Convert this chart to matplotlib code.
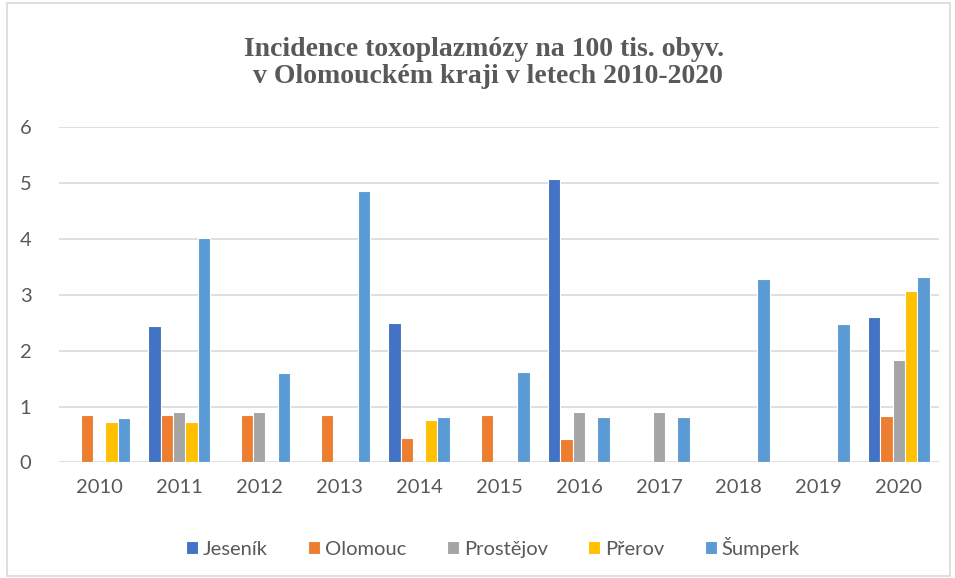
import numpy as np
import matplotlib.pyplot as plt
from matplotlib.patches import Rectangle

# Data
years = ['2010', '2011', '2012', '2013', '2014', '2015', '2016', '2017', '2018', '2019', '2020']
jesenik = [0, 2.44, 0, 0, 2.49, 0, 5.08, 0, 0, 0, 2.61]
olomouc = [0.85, 0.85, 0.85, 0.85, 0.43, 0.84, 0.41, 0, 0, 0, 0.83]
prostejov = [0, 0.90, 0.90, 0, 0, 0, 0.90, 0.90, 0, 0, 1.83]
prerov = [0.73, 0.73, 0, 0, 0.75, 0, 0, 0, 0, 0, 3.07]
sumperk = [0.79, 4.02, 1.60, 4.86, 0.81, 1.61, 0.81, 0.81, 3.29, 2.47, 3.31]

series = ['Jeseník', 'Olomouc', 'Prostějov', 'Přerov', 'Šumperk']
colors = ['#4472C4', '#ED7D31', '#A5A5A5', '#FFC000', '#5B9BD5']
values = [jesenik, olomouc, prostejov, prerov, sumperk]

fig = plt.figure(figsize=(9.55, 5.78), dpi=100)
ax = fig.add_axes([0.062, 0.2, 0.921, 0.58])

x = np.arange(len(years))
w = 0.154
for i, (name, vals, c) in enumerate(zip(series, values, colors)):
    ax.bar(x + (i - 2) * w, vals, width=w, color=c, edgecolor='white',
           linewidth=0.8, label=name, zorder=3)

ax.set_xlim(-0.5, len(years) - 0.5)
ax.set_ylim(0, 6)
ax.set_yticks(range(7))
ax.set_xticks(x)
ax.set_xticklabels(years)
ax.grid(axis='y', color='#d9d9d9', linewidth=1.2, zorder=0)
for s in ax.spines.values():
    s.set_visible(False)
ax.tick_params(length=0, labelsize=14.5, colors='#595959', pad=12)
ax.tick_params(axis='y', pad=20)
for lab in ax.get_xticklabels() + ax.get_yticklabels():
    lab.set_family('Lato')

fig.text(0.507, 0.891, 'Incidence toxoplazmózy na 100 tis. obyv.\n v Olomouckém kraji v letech 2010-2020',
         family='Liberation Serif', fontweight='bold', fontsize=20, ha='center', va='center',
         color='#595959', linespacing=1.1)

leg = fig.legend(loc='center', bbox_to_anchor=(0.516, 0.053), ncol=5, frameon=False,
                 prop={'family': 'Lato', 'size': 14.5}, handlelength=0.6,
                 handleheight=0.6, handletextpad=0.25, columnspacing=2.0)
for t in leg.get_texts():
    t.set_color('#595959')

fig.patches.append(Rectangle((0.007, 0.004), 0.988, 0.99, transform=fig.transFigure,
                             fill=False, edgecolor='#d9d9d9', linewidth=1.2))

fig.savefig('out.png', dpi=100)
